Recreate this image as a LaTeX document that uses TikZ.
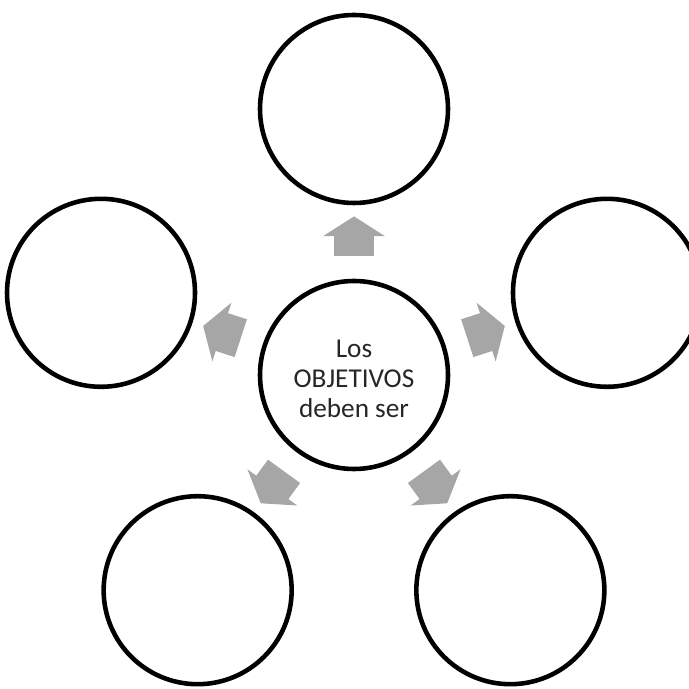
\documentclass[tikz,border=0pt]{standalone}
\usepackage{fontspec}
\setmainfont{Carlito}
\usepackage{tikz}
\usetikzlibrary{shapes.arrows}

\definecolor{arrowgray}{RGB}{166,166,166}
\definecolor{textgray}{RGB}{38,38,38}

\begin{document}
\begin{tikzpicture}[
  ring/.style={circle,draw=black,line width=2.6pt,minimum size=3.76cm,inner sep=0pt},
  block/.style={single arrow,fill=arrowgray,draw=none,inner xsep=0pt,inner ysep=0.39cm,
    minimum height=0.79cm,
    single arrow head extend=0.22cm,single arrow tip angle=115}]
  \clip (-7.08,-6.28) rectangle (6.70,7.50);

  \node[ring] (n0) at (0,0) {};
  \node[align=center,text=textgray,font=\fontsize{15.5pt}{17pt}\selectfont] (t0) at (0,-0.08) {Los\\OBJETIVOS\\deben ser};
  \node[ring] (n1) at (90:5.32)  {};
  \node[ring] (n2) at (18:5.32)  {};
  \node[ring] (n3) at (306:5.32) {};
  \node[ring] (n4) at (234:5.32) {};
  \node[ring] (n5) at (162:5.32) {};

  \foreach \a/\ang in {a1/90,a2/18,a3/306,a4/234,a5/162}
    \node[block,rotate=\ang] (\a) at (\ang:2.65) {};

\end{tikzpicture}
\end{document}
